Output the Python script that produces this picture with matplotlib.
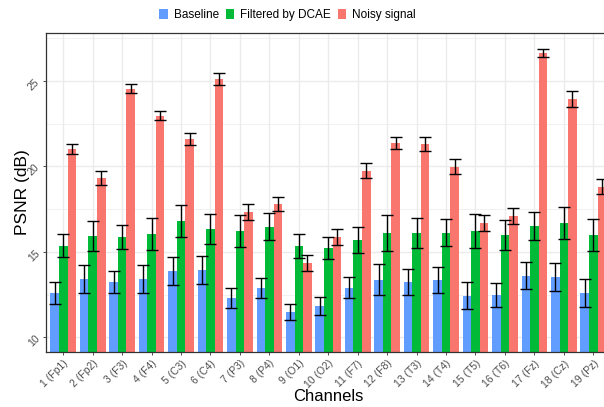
import numpy as np
import matplotlib
matplotlib.use('Agg')
import matplotlib.pyplot as plt
from matplotlib.patches import Patch

plt.rcParams['font.family'] = ['Liberation Sans', 'DejaVu Sans']

channels = ['1 (Fp1)', '2 (Fp2)', '3 (F3)', '4 (F4)', '5 (C3)', '6 (C4)', '7 (P3)',
            '8 (P4)', '9 (O1)', '10 (O2)', '11 (F7)', '12 (F8)', '13 (T3)', '14 (T4)',
            '15 (T5)', '16 (T6)', '17 (Fz)', '18 (Cz)', '19 (Pz)']
series = ['Baseline', 'Filtered by DCAE', 'Noisy signal']

baseline = [12.59, 13.41, 13.24, 13.41, 13.88, 13.94, 12.30, 12.89, 11.48, 11.83,
            12.91, 13.37, 13.24, 13.37, 12.42, 12.48, 13.59, 13.53, 12.59]
baseline_err = [0.63, 0.84, 0.66, 0.82, 0.83, 0.84, 0.61, 0.60, 0.46, 0.51,
                0.62, 0.90, 0.78, 0.75, 0.79, 0.70, 0.79, 0.84, 0.81]
dcae = [15.35, 15.93, 15.87, 16.05, 16.81, 16.34, 16.22, 16.46, 15.35, 15.23,
        15.70, 16.11, 16.11, 16.11, 16.22, 15.99, 16.52, 16.69, 15.99]
dcae_err = [0.67, 0.89, 0.73, 0.94, 0.94, 0.86, 0.95, 0.79, 0.69, 0.62,
            0.76, 1.04, 0.88, 0.79, 1.02, 0.86, 0.84, 0.94, 0.95]
noisy = [21.02, 19.33, 24.54, 22.96, 21.61, 25.10, 17.32, 17.80, 14.35, 15.87,
         19.74, 21.38, 21.32, 19.97, 16.69, 17.10, 26.63, 23.95, 18.80]
noisy_err = [0.30, 0.41, 0.26, 0.26, 0.37, 0.35, 0.46, 0.41, 0.49, 0.48,
             0.44, 0.35, 0.40, 0.44, 0.48, 0.49, 0.24, 0.49, 0.44]

colors = ['#619CFF', '#00BA38', '#F8766D']
values = [baseline, dcae, noisy]
errors = [baseline_err, dcae_err, noisy_err]

fig = plt.figure(figsize=(6.04, 4.07), dpi=100)
ax = fig.add_axes([0.0755, 0.135, 0.936, 0.785])

x = np.arange(1, len(channels) + 1)
w = 0.29
for i in range(3):
    pos = x + (i - 1) * w
    ax.bar(pos, values[i], width=w, color=colors[i], zorder=2)
    ax.errorbar(pos, values[i], yerr=errors[i], fmt='none', ecolor='black',
                elinewidth=1.0, capsize=4.5, capthick=1.0, zorder=3)

ax.set_xlim(0.4, 19.6)
ax.set_ylim(9.14, 27.83)
ax.set_yticks([10, 15, 20, 25])
ax.set_yticks([12.5, 17.5, 22.5, 27.5], minor=True)
ax.set_xticks(x)
ax.set_xticklabels(channels, rotation=45, ha='right', rotation_mode='anchor')
for lab in ax.get_yticklabels():
    lab.set_rotation(45)
ax.tick_params(axis='both', labelsize=7.5, labelcolor='#4D4D4D', color='#333333',
               length=2.5, width=0.6)
ax.tick_params(axis='y', pad=0.5)
ax.tick_params(axis='x', pad=2)
ax.tick_params(axis='y', which='minor', length=0)
ax.grid(True, which='major', color='#EBEBEB', linewidth=1.0, zorder=0)
ax.grid(True, which='minor', axis='y', color='#EBEBEB', linewidth=0.5, zorder=0)
ax.set_axisbelow(True)
for s in ax.spines.values():
    s.set_color('#333333')
    s.set_linewidth(0.9)

ax.set_xlabel('Channels', fontsize=12, labelpad=-1)
ax.set_ylabel('PSNR (dB)', fontsize=12.5, labelpad=-2.5)

handles = [Patch(facecolor=c, edgecolor='none') for c in colors]
fig.legend(handles, series, loc='center', bbox_to_anchor=(0.476, 0.963), ncol=3,
           frameon=False, fontsize=8.5, handlelength=0.7, handleheight=0.9,
           handletextpad=0.5, columnspacing=0.6)

fig.savefig('out.png', dpi=100)
